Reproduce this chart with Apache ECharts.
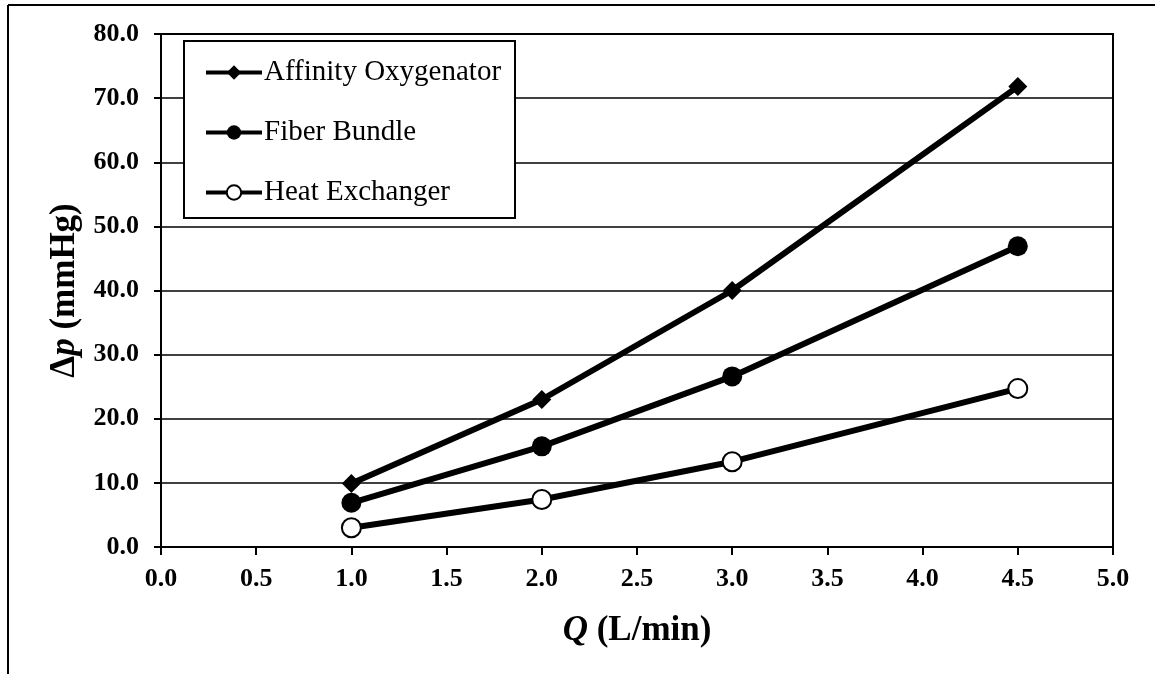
<!DOCTYPE html>
<html>
<head>
<meta charset="utf-8">
<script src="https://cdn.jsdelivr.net/npm/echarts@6/dist/echarts.min.js"></script>
<style>html,body{margin:0;padding:0;background:#fff;}#c{width:1158px;height:674px;}</style>
</head>
<body>
<div id="c"></div>
<script>
const flowRates = [1.0, 2.0, 3.0, 4.5];
const affinityOxygenator = [9.9, 23.0, 40.0, 71.8];
const fiberBundle = [6.9, 15.7, 26.6, 46.9];
const heatExchanger = [3.0, 7.4, 13.3, 24.7];
const seriesNames = ['Affinity Oxygenator', 'Fiber Bundle', 'Heat Exchanger'];

const pairs = (xs, ys) => xs.map((x, i) => [x, ys[i]]);
const serif = '"Liberation Serif", "Times New Roman", serif';

const chart = echarts.init(document.getElementById('c'), null, {renderer: 'canvas'});
chart.setOption({
  animation: false,
  backgroundColor: '#fff',
  grid: {left: 161, right: 45, top: 34, bottom: 127, show: true, borderColor: '#000', borderWidth: 2},
  xAxis: {
    type: 'value', min: 0, max: 5, interval: 0.5,
    axisLine: {show: true, onZero: false, lineStyle: {color: '#000', width: 2}},
    axisTick: {show: true, inside: false, length: 8, lineStyle: {color: '#000', width: 2}},
    splitLine: {show: false},
    axisLabel: {formatter: v => v.toFixed(1), color: '#000', fontFamily: serif, fontWeight: 'bold', fontSize: 26, margin: 19},
    name: '{i|Q} (L/min)', nameLocation: 'middle', nameGap: 66,
    nameTextStyle: {color: '#000', fontFamily: serif, fontWeight: 'bold', fontSize: 35,
      rich: {i: {fontFamily: serif, fontWeight: 'bold', fontStyle: 'italic', fontSize: 35, color: '#000'}}}
  },
  yAxis: {
    type: 'value', min: 0, max: 80, interval: 10,
    axisLine: {show: true, lineStyle: {color: '#000', width: 2}},
    axisTick: {show: true, inside: false, length: 7, lineStyle: {color: '#000', width: 2}},
    splitLine: {show: true, lineStyle: {color: '#000', width: 1.5}},
    axisLabel: {formatter: v => v.toFixed(1), color: '#000', fontFamily: serif, fontWeight: 'bold', fontSize: 26, margin: 22},
    name: 'Δ{i|p} (mmHg)', nameLocation: 'middle', nameGap: 72,
    nameTextStyle: {color: '#000', fontFamily: serif, fontWeight: 'bold', fontSize: 35,
      rich: {i: {fontFamily: serif, fontWeight: 'bold', fontStyle: 'italic', fontSize: 35, color: '#000'}}}
  },
  legend: {
    orient: 'vertical', left: 199, top: 53, z: 20,
    itemWidth: 56, itemHeight: 18, itemGap: 31,
    lineStyle: {width: 4},
    textStyle: {color: '#000', fontFamily: serif, fontSize: 29, lineHeight: 28, padding: [0, 0, 0, -3]},
    data: seriesNames
  },
  graphic: [
    {type: 'rect', z: 10, shape: {x: 184, y: 41, width: 331, height: 177},
      style: {fill: '#fff', stroke: '#000', lineWidth: 2}},
    {type: 'line', z: 10, shape: {x1: 8, y1: 5, x2: 1155, y2: 5}, style: {stroke: '#000', lineWidth: 2}},
    {type: 'line', z: 10, shape: {x1: 8, y1: 5, x2: 8, y2: 674}, style: {stroke: '#000', lineWidth: 2}}
  ],
  series: [
    {name: seriesNames[0], type: 'line', data: pairs(flowRates, affinityOxygenator),
      symbol: 'diamond', symbolSize: 19, z: 5,
      lineStyle: {color: '#000', width: 6}, itemStyle: {color: '#000', borderColor: '#000', borderWidth: 0}},
    {name: seriesNames[1], type: 'line', data: pairs(flowRates, fiberBundle),
      symbol: 'circle', symbolSize: 20, z: 5,
      lineStyle: {color: '#000', width: 6}, itemStyle: {color: '#000', borderColor: '#000', borderWidth: 0}},
    {name: seriesNames[2], type: 'line', data: pairs(flowRates, heatExchanger),
      symbol: 'circle', symbolSize: 19, z: 5,
      lineStyle: {color: '#000', width: 6}, itemStyle: {color: '#fff', borderColor: '#000', borderWidth: 2}}
  ]
});
</script>
</body>
</html>
